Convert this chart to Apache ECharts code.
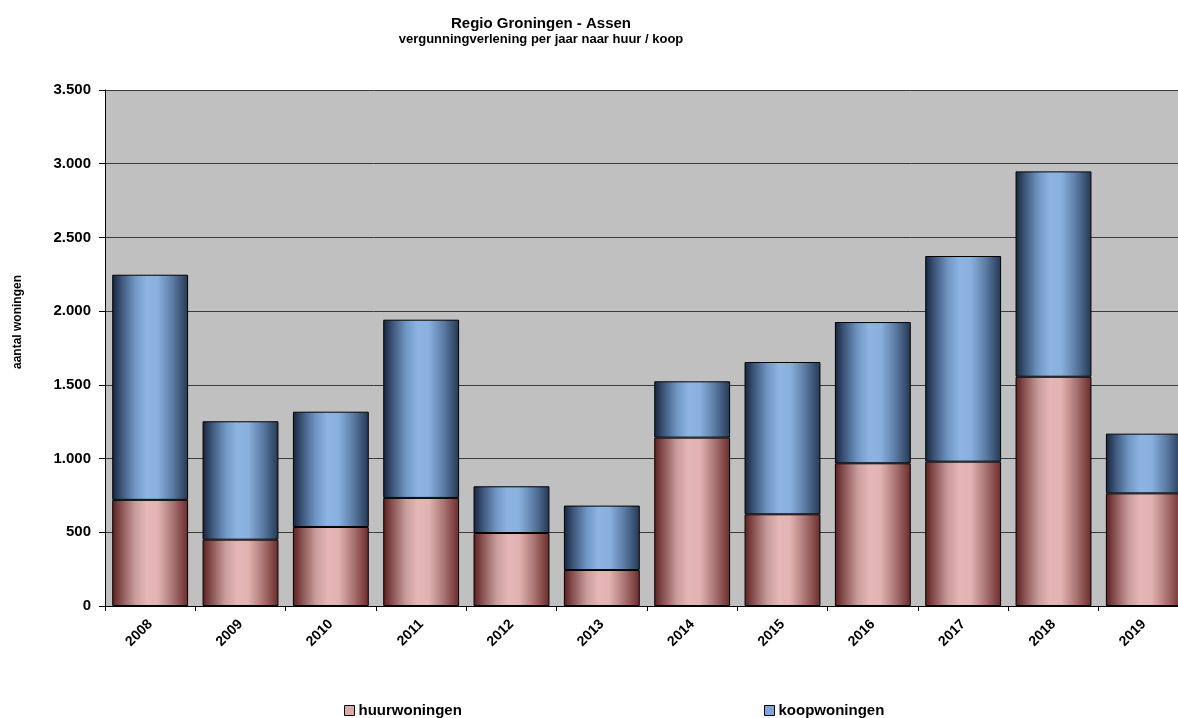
<!DOCTYPE html>
<html>
<head>
<meta charset="utf-8">
<script src="https://cdn.jsdelivr.net/npm/echarts@6/dist/echarts.min.js"></script>
<style>
html,body{margin:0;padding:0;background:#fff;overflow:hidden;}
#chart{width:1178px;height:718px;}
</style>
</head>
<body>
<div id="chart"></div>
<script>
const years = ['2008','2009','2010','2011','2012','2013','2014','2015','2016','2017','2018','2019'];
const huurwoningen = [720, 450, 536, 733, 495, 244, 1142, 622, 968, 979, 1555, 764];
const koopwoningen = [1527, 803, 782, 1209, 317, 437, 382, 1033, 958, 1395, 1393, 405];
const yTicks = [0, 500, 1000, 1500, 2000, 2500, 3000, 3500];

const font = 'Liberation Sans, Arial, sans-serif';

function grad(stops) {
  return {type:'linear', x:0, y:0, x2:1, y2:0, colorStops: stops};
}
const pinkGrad = grad([
  {offset:0, color:'#5a1f1f'},
  {offset:0.12, color:'#8a5252'},
  {offset:0.3, color:'#c79c9b'},
  {offset:0.45, color:'#e4b6b5'},
  {offset:0.6, color:'#e2b3b2'},
  {offset:0.8, color:'#a87473'},
  {offset:1, color:'#6a2a2a'}
]);
const blueGrad = grad([
  {offset:0, color:'#15243d'},
  {offset:0.12, color:'#3d5578'},
  {offset:0.3, color:'#7096c4'},
  {offset:0.45, color:'#8db3e2'},
  {offset:0.6, color:'#8ab0df'},
  {offset:0.8, color:'#5a7aa3'},
  {offset:1, color:'#253752'}
]);

const chart = echarts.init(document.getElementById('chart'));
chart.setOption({
  animation: false,
  backgroundColor: '#ffffff',
  title: {
    text: 'Regio Groningen - Assen',
    subtext: 'vergunningverlening per jaar naar huur / koop',
    left: 536, textAlign: 'center', top: 11, itemGap: 2, padding: 5,
    textStyle: {fontFamily: font, fontWeight: 'bold', fontSize: 15, color: '#000'},
    subtextStyle: {fontFamily: font, fontWeight: 'bold', fontSize: 13, color: '#000'}
  },
  graphic: [{
    type: 'text', x: 18, y: 322, rotation: Math.PI / 2,
    style: {text: 'aantal woningen', font: 'bold 12px ' + font, fill: '#000',
            textAlign: 'center', textVerticalAlign: 'middle'}
  }],
  legend: [
    {data: [{name:'huurwoningen', itemStyle:{color:'#dba9a8', borderColor:'#000', borderWidth:1}}],
     left: 344, top: 703, padding: 0, icon: 'rect', itemWidth: 10, itemHeight: 10,
     textStyle: {fontFamily: font, fontWeight:'bold', fontSize: 15, color:'#000', padding: [0,0,0,-1]}},
    {data: [{name:'koopwoningen', itemStyle:{color:'#7fa6d8', borderColor:'#000', borderWidth:1}}],
     left: 764, top: 703, padding: 0, icon: 'rect', itemWidth: 10, itemHeight: 10,
     textStyle: {fontFamily: font, fontWeight:'bold', fontSize: 15, color:'#000', padding: [0,0,0,-1]}}
  ],
  grid: {left: 105, width: 1084, top: 90, height: 516, show: true, backgroundColor: '#c0c0c0', borderWidth: 0,
         containLabel: false, outerBoundsMode: 'none'},
  xAxis: {
    type: 'category',
    data: years,
    boundaryGap: true,
    axisLine: {lineStyle: {color: '#000', width: 1}},
    axisTick: {show: true, length: 5, lineStyle: {color: '#000'}},
    axisLabel: {rotate: 45, fontFamily: font, fontWeight: 'bold', fontSize: 14, color: '#000', margin: 16}
  },
  yAxis: {
    type: 'value',
    min: yTicks[0], max: yTicks[yTicks.length-1], interval: 500,
    axisLine: {show: true, lineStyle: {color: '#000', width: 1}},
    axisTick: {show: true, length: 6, lineStyle: {color: '#000'}},
    splitLine: {show: true, lineStyle: {color: '#3a3a3a', width: 1}},
    axisLabel: {fontFamily: font, fontWeight: 'bold', fontSize: 15, color: '#000', margin: 14,
      formatter: v => v.toString().replace(/\B(?=(\d{3})+(?!\d))/g, '.')}
  },
  series: [
    {name: 'huurwoningen', type: 'bar', stack: 'tot', data: huurwoningen, barWidth: '84%',
     itemStyle: {color: pinkGrad, borderColor: '#000', borderWidth: 1}},
    {name: 'koopwoningen', type: 'bar', stack: 'tot', data: koopwoningen, barWidth: '84%',
     itemStyle: {color: blueGrad, borderColor: '#000', borderWidth: 1}}
  ]
});
</script>
</body>
</html>
